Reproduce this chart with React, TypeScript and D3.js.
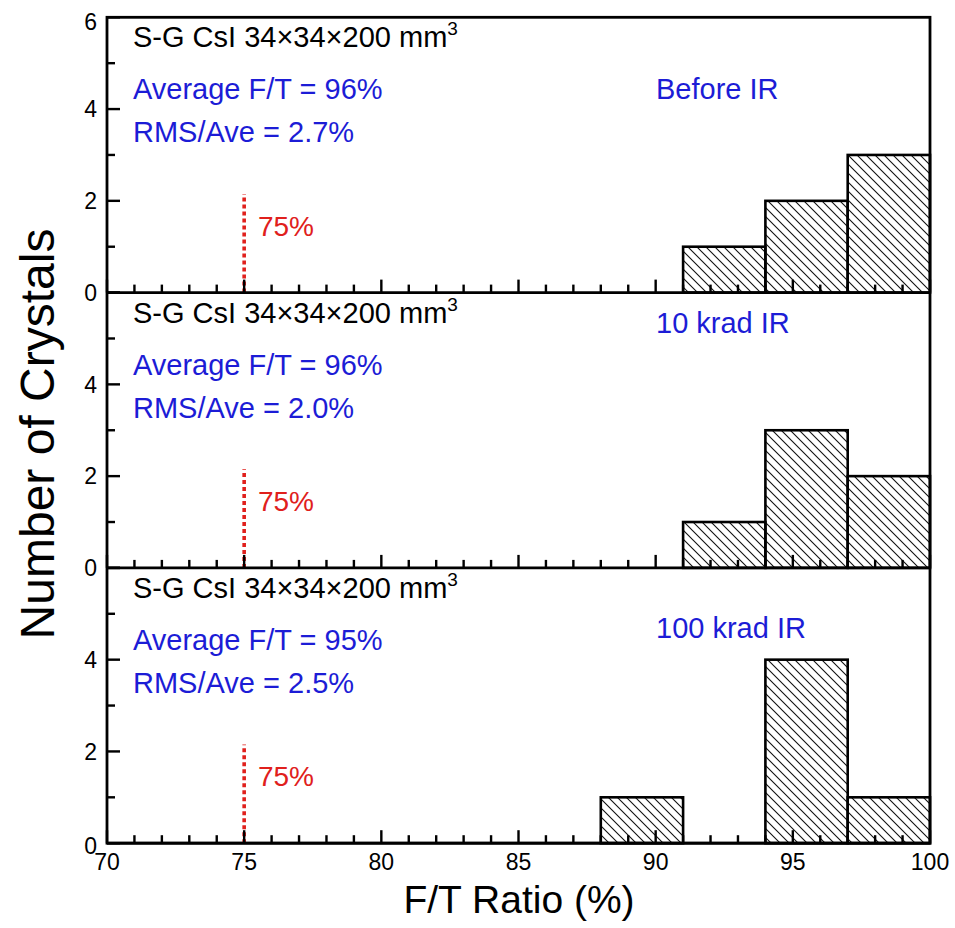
import React from 'react';
import * as d3 from 'd3';

// ---- data ----
const binEdges = [88, 91, 94, 97, 100];
const countsBefore = [0, 1, 2, 3];
const counts10krad = [0, 1, 3, 2];
const counts100krad = [1, 0, 4, 1];
const panelNames = ['Before IR', '10 krad IR', '100 krad IR'];
const panelNameY = [4.22, 5.11, 4.48];
const averages = ['96%', '96%', '95%'];
const rmsValues = ['2.7%', '2.0%', '2.5%'];
const xTicks = [70, 75, 80, 85, 90, 95, 100];
const xMinor = d3.range(70, 101, 1);
const yTicksTop = [0, 2, 4, 6];
const yTicksOther = [0, 2, 4];
const yMinor = [1, 3, 5];
const thresholdValue = 75;
const thresholdHeight = 2.15;
const thresholdLabel = '75%';
const crystalLabel = 'S-G CsI 34\u00d734\u00d7200 mm';

const allCounts = [countsBefore, counts10krad, counts100krad];

const W = 955;
const H = 928;
const left = 107;
const right = 930;
const top0 = 17.3;
const panelH = 275.3;
const BLUE = '#1c1cd6';
const RED = '#e0201c';
const FONT = '"Liberation Sans", Arial, sans-serif';
const TW = 2.4;

export default function App() {
  const x = d3.scaleLinear().domain([70, 100]).range([left, right]);
  const bins = d3.range(binEdges.length - 1).map((i) => ({ x0: binEdges[i], x1: binEdges[i + 1] }));
  const panels = allCounts.map((counts, p) => {
    const top = top0 + p * panelH;
    const y = d3.scaleLinear().domain([0, 6]).range([top + panelH, top]);
    return { counts, p, top, y };
  });

  return (
    <svg width={W} height={H} style={{ position: 'absolute', left: 0, top: 0, background: '#fff' }} fontFamily={FONT}>
      <defs>
        <pattern id="hatch" patternUnits="userSpaceOnUse" width={9} height={9}>
          <path d="M0,0 L9,9 M-2,7 L2,11 M7,-2 L11,2" stroke="#111" strokeWidth={1.1} />
        </pattern>
      </defs>
      <rect x={0} y={0} width={W} height={H} fill="#fff" />
      {panels.map(({ counts, p, top, y }) => {
        const yTicks = p === 0 ? yTicksTop : yTicksOther;
        return (
          <g key={'p' + p}>
            {bins.map((b, i) =>
              counts[i] > 0 ? (
                <rect
                  key={i}
                  x={x(b.x0)}
                  y={y(counts[i])}
                  width={x(b.x1) - x(b.x0)}
                  height={y(0) - y(counts[i])}
                  fill="url(#hatch)"
                  stroke="#000"
                  strokeWidth={2.6}
                />
              ) : null
            )}
            <line
              x1={x(thresholdValue)}
              x2={x(thresholdValue)}
              y1={y(0)}
              y2={y(thresholdHeight)}
              stroke={RED}
              strokeWidth={3.6}
              strokeDasharray="4,3"
            />
            <text x={x(75.5)} y={y(1.24)} fill={RED} fontSize={28}>
              {thresholdLabel}
            </text>
            {yTicks.map((v) => (
              <text
                key={'yl' + v}
                x={left - 10}
                y={p === 2 && v === 0 ? y(v) + 3 : Math.max(y(v), 22)}
                dy="0.36em"
                textAnchor="end"
                fontSize={23}
                fill="#000"
              >
                {v}
              </text>
            ))}
            <text x={133} y={top + 30} fontSize={29} fill="#000">
              {crystalLabel}
              <tspan dy={-12} fontSize={19}>3</tspan>
            </text>
            <text x={133} y={top + 82} fontSize={29} fill={BLUE}>
              {'Average F/T = ' + averages[p]}
            </text>
            <text x={133} y={top + 125} fontSize={29} fill={BLUE}>
              {'RMS/Ave = ' + rmsValues[p]}
            </text>
            <text x={656} y={y(panelNameY[p])} fontSize={29} fill={BLUE}>
              {panelNames[p]}
            </text>
            <line x1={left} x2={right} y1={y(0)} y2={y(0)} stroke="#000" strokeWidth={2.8} />
          </g>
        );
      })}
      <rect
        x={left}
        y={top0}
        width={right - left}
        height={panelH * 3}
        fill="none"
        stroke="#000"
        strokeWidth={2.8}
      />
      {panels.map(({ p, y }) => (
        <g key={'t' + p} fill="#000">
          {xMinor.map((v) => {
            const len = v % 5 === 0 ? 13 : 8;
            return <rect key={'xm' + v} x={x(v) - TW / 2} y={y(0) - len} width={TW} height={len} />;
          })}
          {yTicksTop.map((v) => (
            <rect key={'yM' + v} x={left} y={y(v) - TW / 2} width={13} height={TW} />
          ))}
          {yMinor.map((v) => (
            <rect key={'ym' + v} x={left} y={y(v) - TW / 2} width={8} height={TW} />
          ))}
        </g>
      ))}
      {xTicks.map((v) => (
        <text key={'xl' + v} x={x(v)} y={870} textAnchor="middle" fontSize={23} fill="#000">
          {v}
        </text>
      ))}
      <text x={519} y={913} textAnchor="middle" fontSize={39} fill="#000">
        F/T Ratio (%)
      </text>
      <text transform="translate(54,434) rotate(-90)" textAnchor="middle" fontSize={48} fill="#000">
        Number of Crystals
      </text>
    </svg>
  );
}
